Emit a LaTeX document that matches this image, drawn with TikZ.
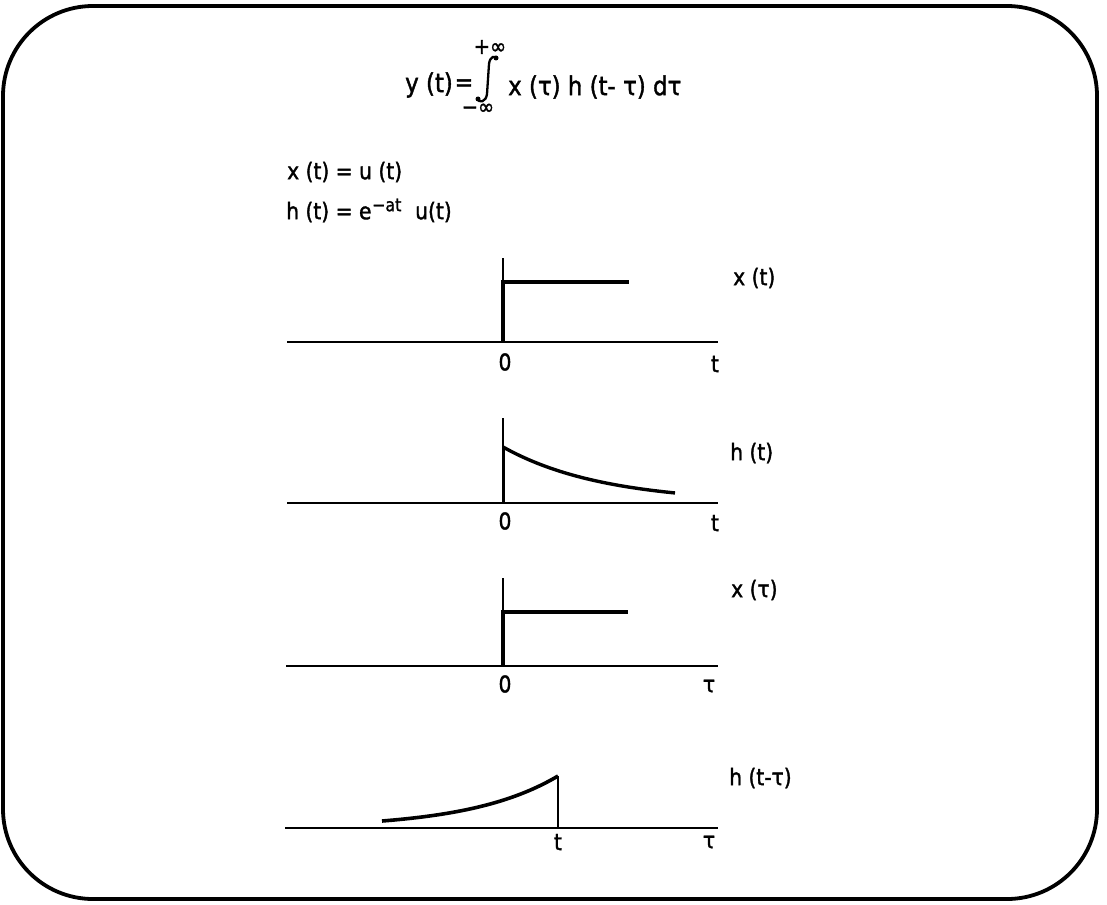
\documentclass[tikz,border=0pt]{standalone}
\usepackage{fontspec}
\setmainfont[FakeStretch=0.88,FakeBold=1.5]{DejaVu Sans}
\begin{document}
\begin{tikzpicture}[x=1pt,y=-1pt,
  lbl/.style={inner sep=0pt,font=\fontsize{23}{27}\selectfont},
  frm/.style={inner sep=0pt,font=\fontsize{26}{30}\selectfont},
  lim/.style={inner sep=0pt,font=\fontsize{22}{26}\selectfont},
  axisline/.style={line width=1.8pt},
  yline/.style={line width=1.4pt},
  sig/.style={line width=3.4pt,line join=miter},
  thin0/.style={line width=2.8pt}]
\useasboundingbox (0,0) rectangle (1107,904);
% frame
\draw[line width=3.8pt,rounded corners=90pt] (3,6) rectangle (1097,899);

% formula
\node[frm,anchor=west] (yt) at (405,85) {y (t)};
\node[frm,font=\fontsize{25}{28}\selectfont] (eq) at (464,85) {=};
\draw[line width=2.3pt,line cap=round] (477,98) .. controls (479,104) and (486,102) .. (487,94) -- (489,64) .. controls (490,56) and (495,55) .. (497,59);
\fill (478,99) circle (2.5pt) (496,58) circle (2.5pt);
\node[lim] (up) at (490,47) {+∞};
\node[lim] (lo) at (478,109) {−∞};
\node[frm,anchor=west] (rhs) at (508,87) {x (τ) h (t- τ) dτ};

% definitions
\node[lbl,anchor=west] (d1) at (287,172) {x (t) = u (t)};
\node[lbl,anchor=west] (d2) at (286,212) {h (t) = e};
\node[lbl,anchor=west,font=\fontsize{18}{20}\selectfont] (d2s) at (372,205) {−at};
\node[lbl,anchor=west] (d2u) at (415,212) {u(t)};

% plot 1: x(t)
\draw[axisline] (287,342) -- (718,342);
\draw[thin0] (410,342) -- (503,342);
\draw[yline] (503,258) -- (503,342);
\draw[sig] (503,342) -- (503,282) -- (629,282);
\node[lbl] (o1) at (505,362) {0};
\node[lbl] (t1) at (715,364) {t};
\node[lbl,anchor=west] (l1) at (733,278) {x (t)};

% plot 2: h(t)
\draw[axisline] (287,503) -- (718,503);
\draw[thin0] (446,503) -- (503,503);
\draw[yline] (503,418) -- (503,503);
\draw[line width=3pt] (503,503) -- (503,447);
\draw[line width=3.4pt] plot[domain=503:675,samples=60] (\x,{503-56*exp(-0.01*(\x-503))});
\node[lbl] (o2) at (505,521) {0};
\node[lbl] (t2) at (715,523) {t};
\node[lbl,anchor=west] (l2) at (730,453) {h (t)};

% plot 3: x(tau)
\draw[axisline] (286,666) -- (718,666);
\draw[line width=2.4pt] (433,666) -- (503,666);
\draw[yline] (503,578) -- (503,666);
\draw[sig] (503,666) -- (503,612) -- (628,612);
\node[lbl] (o3) at (505,684) {0};
\node[lbl] (tau3) at (709,686) {τ};
\node[lbl,anchor=west] (l3) at (731,590) {x (τ)};

% plot 4: h(t-tau)
\draw[axisline] (285,828) -- (718,828);
\draw[line width=2pt] (558,828) -- (558,776);
\draw[line width=3.6pt] plot[domain=382:558,samples=60] (\x,{828-52*exp(-0.0114*(558-\x))});
\node[lbl] (t4) at (558,842) {t};
\node[lbl] (tau4) at (709,842) {τ};
\node[lbl,anchor=west] (l4) at (729,778) {h (t-τ)};
\end{tikzpicture}
\end{document}
